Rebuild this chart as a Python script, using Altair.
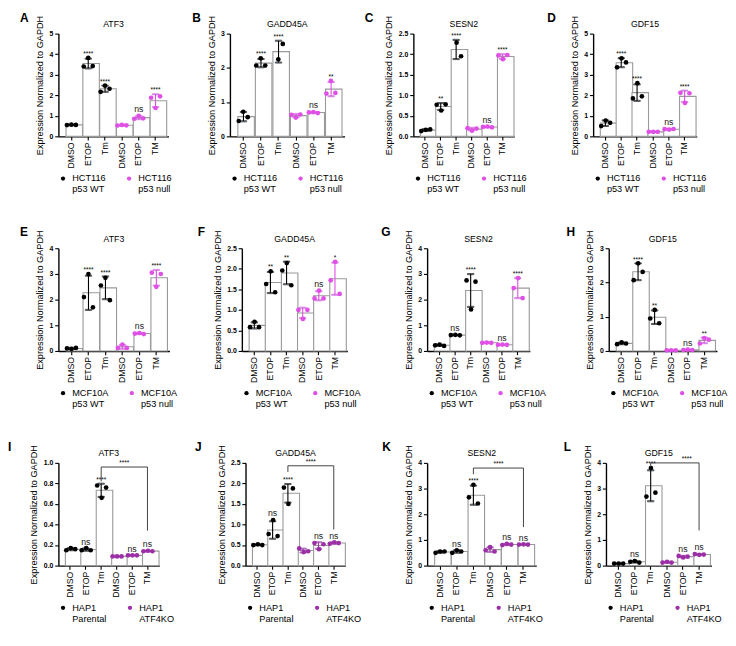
import altair as alt
import numpy as np
import pandas as pd

FONT = "Liberation Sans"

cats = ["DMSO", "ETOP", "Tm", "DMSO ", "ETOP ", "TM"]
reps = ["a", "b", "c"]
letters = list("ABCDEFGHIJKL")
genes = ["ATF3", "GADD45A", "SESN2", "GDF15"] * 3
row_groups = [["HCT116|p53 WT", "HCT116|p53 null"],
              ["MCF10A|p53 WT", "MCF10A|p53 null"],
              ["HAP1|Parental", "HAP1|ATF4KO"]]
row_colors = [["#000000", "#E04FE6"], ["#000000", "#E04FE6"], ["#000000", "#9C2EA6"]]
N = None

vals_A = [[0.55, 0.57, 0.56], [3.40, 3.82, 3.42], [2.17, 2.47, 2.32],
          [0.53, 0.56, 0.54], [0.86, 1.00, 0.88], [1.88, 1.38, 1.95]]
vals_B = [[0.45, 0.72, 0.56], [2.07, 2.28, 2.07], [N, 2.25, 2.70],
          [0.63, 0.55, 0.64], [0.70, 0.71, 0.68], [1.25, 1.62, 1.27]]
vals_C = [[0.13, 0.16, 0.17], [0.77, 0.63, 0.78], [N, 2.28, 1.95],
          [0.20, 0.14, 0.19], [0.23, 0.24, 0.22], [1.97, 1.88, 1.98]]
vals_D = [[0.50, 0.77, 0.66], [3.36, 3.80, 3.60], [1.85, 2.59, 1.95],
          [0.22, 0.22, 0.22], [0.35, 0.33, 0.36], [2.12, 1.63, 2.10]]
vals_E = [[0.10, 0.08, 0.12], [2.10, 3.00, 1.70], [2.55, 2.85, 1.98],
          [0.12, 0.25, 0.12], [0.68, 0.70, 0.66], [3.05, 2.50, 3.00]]
vals_F = [[0.58, 0.71, 0.58], [1.63, 1.94, 1.43], [1.96, 2.14, 1.60],
          [1.00, 0.78, 1.00], [1.28, 1.47, 1.28], [1.72, 2.17, 1.39]]
vals_G = [[0.22, 0.25, 0.20], [0.62, 0.63, 0.61], [2.75, 1.62, 2.70],
          [0.32, 0.33, 0.32], [0.24, 0.25, 0.24], [2.45, 2.84, 2.06]]
vals_H = [[0.20, 0.25, 0.22], [2.07, 2.56, 2.31], [0.95, 1.20, 0.81],
          [0.02, 0.02, 0.02], [0.03, 0.04, 0.03], [0.22, 0.38, 0.33]]
vals_I = [[0.15, 0.17, 0.16], [0.15, 0.17, 0.15], [0.78, 0.66, 0.76],
          [0.09, 0.09, 0.09], [0.10, 0.10, 0.10], [0.14, 0.145, 0.14]]
vals_J = [[0.50, 0.52, 0.50], [0.77, 1.11, 0.72], [1.90, 1.50, 1.88],
          [0.42, 0.33, 0.35], [0.55, 0.40, 0.52], [0.53, 0.57, 0.55]]
vals_K = [[0.50, 0.55, 0.55], [0.50, 0.60, 0.55], [2.66, 3.15, 2.42],
          [0.60, 0.72, 0.55], [0.80, 0.85, 0.82], [0.82, 0.83, 0.82]]
vals_L = [[0.08, 0.08, 0.08], [0.15, 0.18, 0.12], [2.69, 3.80, 2.84],
          [0.12, 0.15, 0.12], [0.38, 0.32, 0.35], [0.45, 0.42, 0.43]]
values = [vals_A, vals_B, vals_C, vals_D, vals_E, vals_F,
          vals_G, vals_H, vals_I, vals_J, vals_K, vals_L]

sig_1 = ["", "****", "****", "", "ns", "****"]
sigs = [sig_1, ["", "****", "****", "", "ns", "**"], ["", "**", "****", "", "ns", "****"], sig_1,
        sig_1, ["", "**", "**", "", "ns", "*"], ["", "ns", "****", "", "ns", "****"],
        ["", "****", "**", "", "ns", "**"]] + [["", "ns", "****", "", "ns", "ns"]] * 4

y_ticks = [[0, 1, 2, 3, 4, 5], [0, 1, 2, 3], [0, 0.5, 1.0, 1.5, 2.0, 2.5], [0, 1, 2, 3, 4, 5],
           [0, 1, 2, 3, 4], [0, 0.5, 1.0, 1.5, 2.0, 2.5], [0, 1, 2, 3, 4], [0, 1, 2, 3],
           [0, 0.2, 0.4, 0.6, 0.8, 1.0], [0, 0.5, 1.0, 1.5, 2.0, 2.5], [0, 1, 2, 3, 4], [0, 1, 2, 3, 4]]
y_fmt = ["d", "d", ".1f", "d", "d", ".1f", "d", "d", ".1f", ".1f", "d", "d"]

# bracket Tm -> TM for HAP1 panels: [left end, line level, right end]
brackets = {8: [0.82, 0.96, 0.34], 9: [2.28, 2.43, 0.88], 10: [3.56, 3.80, 1.50], 11: [3.85, 4.00, 1.37]}
bracket_label_dx = {8: 0, 9: 0, 10: 0, 11: 13}

widths = [120, 125, 110, 113, 121, 115, 112, 118, 110, 109, 119, 115]
letter_dx = [-42, -41, -53, -50, -42, -48, -50, -46, -55, -55, -49, -46]
H = 112
PI, PO = 0.36, 0.45


def panel(i):
    r = i // 4
    W = widths[i]
    grp = row_groups[r]
    rows = []
    for ci, c in enumerate(cats):
        g = grp[0] if ci < 3 else grp[1]
        for rep, v in zip(reps, values[i][ci]):
            if v is None:
                continue
            rows.append(dict(cat=c, rep=rep, val=v, grp=g))
    pts = pd.DataFrame(rows)
    summ = pts.groupby("cat", sort=False).agg(
        mean=("val", "mean"), sd=("val", "std"), mx=("val", "max"), grp=("grp", "first")).reset_index()
    summ["lo"] = summ["mean"] - summ["sd"]
    summ["hi"] = summ["mean"] + summ["sd"]
    summ["top"] = np.maximum(summ["hi"], summ["mx"])
    summ["sig"] = [sigs[i][cats.index(c)] for c in summ["cat"]]

    xs = alt.Scale(domain=cats, paddingInner=PI, paddingOuter=PO)
    X = alt.X("cat:N", scale=xs, title=None,
              axis=alt.Axis(labelExpr="trim(datum.value)", labelAngle=-90))
    ys = alt.Scale(domain=[0, y_ticks[i][-1]], nice=False)
    yax = alt.Axis(values=y_ticks[i], format=y_fmt[i], title="Expression Normalized to GAPDH",
                   labelOverlap=False)

    def Y(f):
        return alt.Y(f, scale=ys, axis=yax)

    col = alt.Color("grp:N", title=None,
                    scale=alt.Scale(domain=grp, range=row_colors[r]),
                    legend=alt.Legend(labelExpr="split(datum.label, '|')"))
    # error-bar colours: same mapping, separate (unlisted) scale
    strk = alt.Stroke("grp:N", scale=alt.Scale(domain=grp[::-1], range=row_colors[r][::-1]),
                      legend=None)

    base = alt.Chart(summ)
    bars = base.mark_bar(fill="white", stroke="#9a9a9a", strokeWidth=1.2).encode(
        x=X, y=Y("mean:Q"))
    err = base.mark_rule(strokeWidth=1.2).encode(x=X, y=Y("lo:Q"), y2="hi:Q", stroke=strk)
    cap_hi = base.mark_tick(size=7, thickness=1.2).encode(x=X, y=Y("hi:Q"), stroke=strk)
    cap_lo = base.mark_tick(size=7, thickness=1.2).encode(x=X, y=Y("lo:Q"), stroke=strk)
    points = alt.Chart(pts).mark_circle(size=26, opacity=1).encode(
        x=X, xOffset=alt.XOffset("rep:N", scale=alt.Scale(domain=reps, paddingOuter=0.2)),
        y=Y("val:Q"), color=col)
    stars = base.transform_filter("indexof(datum.sig, '*') >= 0").mark_text(
        baseline="alphabetic", dy=-2, fontSize=7, font=FONT, color="black").encode(
        x=X, y=Y("top:Q"), text="sig:N")
    ns = base.transform_filter("datum.sig == 'ns'").mark_text(
        baseline="alphabetic", dy=-4, fontSize=9.5, font=FONT, color="#222").encode(
        x=X, y=Y("top:Q"), text="sig:N")
    lab = pd.DataFrame({"t": [letters[i]], "g": [genes[i]]})
    let = alt.Chart(lab).mark_text(
        align="left", baseline="alphabetic", fontSize=13, fontWeight="bold", font=FONT,
        color="black").encode(text="t:N", x=alt.value(letter_dx[i]), y=alt.value(-13))
    gene = alt.Chart(lab).mark_text(
        align="center", baseline="alphabetic", fontSize=9.5, font=FONT,
        color="black").encode(text="g:N", x=alt.value(W / 2), y=alt.value(-7))
    layers = [bars, err, cap_hi, cap_lo, points, stars, ns, let, gene]
    if i in brackets:
        b = brackets[i]
        bdf = pd.DataFrame({"cat": ["Tm", "Tm", "TM", "TM"], "v": [b[0], b[1], b[1], b[2]],
                            "o": [0, 1, 2, 3]})
        layers.append(alt.Chart(bdf).mark_line(color="#333333", strokeWidth=1).encode(
            x=X, y=Y("v:Q"), order="o:Q"))
        step = W / (6 - PI + 2 * PO)
        ldf = pd.DataFrame({"cat": ["DMSO "], "v": [b[1]], "t": ["****"]})
        layers.append(alt.Chart(ldf).mark_text(
            baseline="alphabetic", dy=-2, dx=step / 2 + bracket_label_dx[i], fontSize=7,
            font=FONT, color="black").encode(x=X, y=Y("v:Q"), text="t:N"))
    return alt.layer(*layers).properties(width=W, height=H)


def resolved(c):
    return c.resolve_scale(x="independent", y="independent", color="independent",
                           stroke="independent").resolve_legend(color="independent")


rows = [resolved(alt.hconcat(*[panel(4 * r + k) for k in range(4)], spacing=22)) for r in range(3)]
chart = resolved(alt.vconcat(*rows, spacing=36)).properties(
    padding={"top": -24, "left": 0, "right": 0, "bottom": 0})

chart = chart.configure_view(stroke=None).configure_axis(
    domainColor="black", domainWidth=1.5, tickColor="black", tickWidth=1.2, grid=False,
    labelFont=FONT, titleFont=FONT, labelColor="black", titleColor="black"
).configure_axisY(
    labelFontSize=7.5, labelFontWeight="bold", tickSize=4, titleFontSize=10,
    titleFontWeight="normal", labelPadding=2, titlePadding=5
).configure_axisX(
    labelFontSize=9.5, tickSize=4, labelPadding=2
).configure_legend(
    orient="bottom", direction="horizontal", labelFont=FONT, labelFontSize=10,
    labelColor="black", symbolType="circle", symbolSize=22, offset=6, columnPadding=20,
    labelOffset=5, labelLimit=80, labelBaseline="middle"
)

chart.save("out.html", embed_options={"renderer": "svg", "actions": False})
